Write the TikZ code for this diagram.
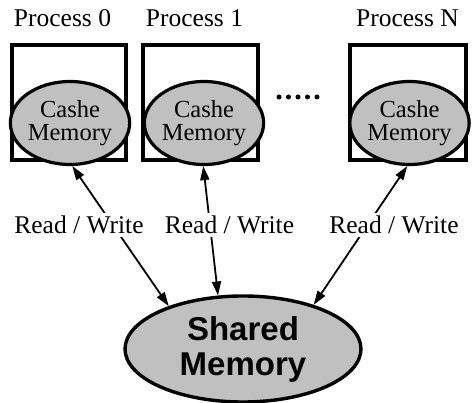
\documentclass[tikz,border=0pt]{standalone}
\usepackage{fontspec}
\setmainfont{Liberation Serif}
\newfontfamily\headfont{Liberation Sans}
\usetikzlibrary{shapes.geometric,arrows.meta}
\definecolor{memgray}{RGB}{192,192,192}
\tikzset{
  procbox/.style={draw=black, line width=3.2pt},
  cachemem/.style={ellipse, draw=black, line width=3.2pt, fill=memgray,
    minimum width=112pt, minimum height=83pt, inner sep=0pt, align=center,
    font=\fontsize{24.5}{23}\selectfont},
  sharedmem/.style={ellipse, draw=black, line width=3.4pt, fill=memgray,
    minimum width=236pt, minimum height=106pt, inner sep=0pt, align=center,
    font=\headfont\bfseries\fontsize{33}{35}\selectfont},
  proclabel/.style={anchor=base, inner sep=0pt, font=\fontsize{25.5}{28}\selectfont},
  rwlabel/.style={fill=white, inner sep=3pt, font=\fontsize{25.5}{28}\selectfont},
  rwlink/.style={line width=1.8pt, {Triangle[length=14pt,width=9pt]}-{Triangle[length=14pt,width=9pt]}},
  dot/.style={circle, fill=black, inner sep=0pt, minimum size=5pt}
}
\begin{document}
\begin{tikzpicture}[x=1pt,y=-1pt]
\useasboundingbox (0,0) rectangle (472,403);

% process labels
\node[proclabel] (p0) at (62.5,27) {Process 0};
\node[proclabel] (p1) at (194.5,27) {Process 1};
\node[proclabel] (pN) at (407.5,27) {Process N};

% process boxes
\draw[procbox] (12,45) rectangle (126,160);
\draw[procbox] (143,45) rectangle (258,160);
\draw[procbox] (350,45) rectangle (466,160);

% cache memories
\node[cachemem] (c0) at (70,123) {Cashe\\Memory};
\node[cachemem] (c1) at (204,123) {Cashe\\Memory};
\node[cachemem] (cN) at (409.5,123) {Cashe\\Memory};

% dots between the processes
\foreach \i [count=\k] in {279,288.5,298,307.5,317}
  \node[dot] (d\k) at (\i,97) {};

% shared memory
\node[sharedmem] (sm) at (243,349) {Shared\\Memory};

% read / write links
\draw[rwlink] (c0.-87) -- (sm.150);
\draw[rwlink] (c1.-91) -- (sm.115);
\draw[rwlink] (cN.-93) -- (sm.32);

\node[rwlabel] (rw0) at (79,225) {Read / Write};
\node[rwlabel] (rw1) at (229.5,225) {Read / Write};
\node[rwlabel] (rwN) at (394,225) {Read / Write};
\end{tikzpicture}
\end{document}
